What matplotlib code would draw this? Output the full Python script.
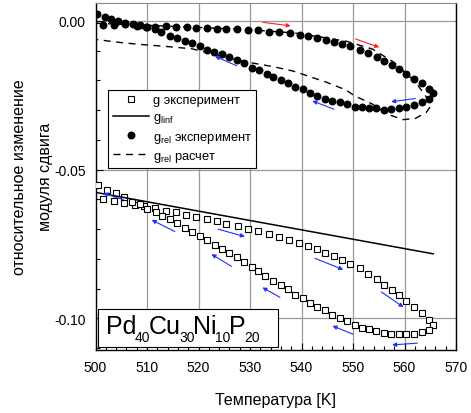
import numpy as np
import matplotlib
matplotlib.use("Agg")
import matplotlib.pyplot as plt
from matplotlib.ticker import MultipleLocator, FormatStrFormatter
from matplotlib.patches import Rectangle
from matplotlib.transforms import IdentityTransform

plt.rcParams["font.family"] = ["Liberation Sans", "DejaVu Sans"]
plt.rcParams["axes.unicode_minus"] = False
plt.rcParams["mathtext.fontset"] = "custom"
plt.rcParams["mathtext.rm"] = "Liberation Sans"

# g experiment: heating branch (upper) and cooling branch (lower)
g_heat_T = [501.5, 503.5, 505.6, 507.7, 509.4, 511.5, 513.7, 515.6, 517.5, 519.5,
            521.6, 523.6, 525.4, 527.6, 529.6, 531.6, 533.7, 535.6, 537.5, 539.5,
            541.3, 543.0, 544.6, 546.3, 547.9, 549.5, 551.3, 552.9, 554.6, 556.1,
            557.6, 558.9, 560.3, 561.8, 563.3, 564.7, 565.6]
g_heat = [-0.0597, -0.0604, -0.0611, -0.0619, -0.0622, -0.0630, -0.0638, -0.0644,
          -0.0652, -0.0659, -0.0666, -0.0674, -0.0681, -0.0689, -0.0698, -0.0706,
          -0.0716, -0.0727, -0.0736, -0.0747, -0.0757, -0.0768, -0.0780, -0.0791,
          -0.0802, -0.0817, -0.0831, -0.0850, -0.0869, -0.0886, -0.0904, -0.0922,
          -0.0941, -0.0961, -0.0983, -0.1006, -0.1022]
g_cool_T = [564.7, 563.3, 561.8, 560.3, 558.9, 557.4, 556.0, 554.5, 553.1, 551.7,
            550.3, 548.8, 547.4, 545.9, 544.5, 543.1, 541.7, 540.2, 538.8, 537.3,
            536.1, 534.5, 533.0, 531.6, 530.3, 528.8, 527.4, 525.9, 524.5, 523.2,
            521.7, 520.3, 518.8, 517.4, 515.9, 514.4, 513.0, 511.7, 510.0, 508.6,
            507.1, 505.6, 504.0, 502.3, 500.5]
g_cool = [-0.1039, -0.1047, -0.1052, -0.1053, -0.1053, -0.1051, -0.1049, -0.1042,
          -0.1036, -0.1032, -0.1021, -0.1010, -0.0999, -0.0988, -0.0972, -0.0961,
          -0.0949, -0.0932, -0.0921, -0.0902, -0.0888, -0.0873, -0.0858, -0.0839,
          -0.0828, -0.0811, -0.0794, -0.0780, -0.0766, -0.0752, -0.0738, -0.0722,
          -0.0708, -0.0697, -0.0680, -0.0667, -0.0656, -0.0644, -0.0632, -0.0616,
          -0.0608, -0.0591, -0.0580, -0.0567, -0.0552]

# g_linf line
linf_T = [500.2, 565.6]
linf_g = [-0.0577, -0.0783]

# g_rel experiment
rel_heat_T = [501.4, 503.6, 505.7, 508.0, 509.8, 511.5, 513.7, 515.6, 517.7, 519.5,
              521.6, 523.5, 525.4, 527.4, 529.6, 531.6, 533.6, 535.6, 537.7, 539.7,
              541.3, 543.0, 544.7, 546.3, 547.9, 549.5, 551.3, 552.9, 554.6, 556.1,
              557.6, 558.9, 560.3, 561.8, 563.3, 564.7, 565.6]
rel_heat = [-0.0013, -0.0013, -0.0012, -0.0017, -0.0020, -0.0022, -0.0019, -0.0021,
            -0.0021, -0.0023, -0.0024, -0.0027, -0.0028, -0.0029, -0.0030, -0.0032,
            -0.0036, -0.0038, -0.0041, -0.0047, -0.0052, -0.0058, -0.0063, -0.0071,
            -0.0078, -0.0086, -0.0097, -0.0108, -0.0122, -0.0134, -0.0149, -0.0163,
            -0.0179, -0.0194, -0.0210, -0.0228, -0.0244]
rel_cool_T = [564.7, 563.4, 561.8, 560.3, 558.9, 557.4, 556.0, 554.5, 553.1, 551.7,
              550.3, 548.8, 547.4, 545.9, 544.5, 543.1, 541.6, 540.2, 538.8, 537.4,
              536.0, 534.4, 533.2, 531.7, 530.3, 528.8, 527.4, 525.9, 524.5, 523.0,
              521.6, 520.3, 518.8, 517.4, 515.9, 514.4, 512.8, 511.5, 509.9, 508.6,
              507.3, 505.7, 504.4, 503.1, 501.8, 500.3]
rel_cool = [-0.0261, -0.0272, -0.0283, -0.0291, -0.0294, -0.0297, -0.0299, -0.0294,
            -0.0293, -0.0291, -0.0288, -0.0280, -0.0274, -0.0269, -0.0261, -0.0252,
            -0.0241, -0.0230, -0.0221, -0.0208, -0.0199, -0.0190, -0.0180, -0.0166,
            -0.0158, -0.0143, -0.0133, -0.0122, -0.0113, -0.0104, -0.0097, -0.0086,
            -0.0074, -0.0067, -0.0058, -0.0050, -0.0037, -0.0028, -0.0021, -0.0014,
            -0.0010, -0.0008, 0.0000, 0.0007, 0.0014, 0.0023]

# g_rel calculation (dashed loop)
calc_T = [500.0, 510.0, 520.0, 530.0, 538.7, 544.0, 548.8, 553.8, 558.0, 562.1,
          564.2, 564.9, 564.2, 562.1, 559.7, 556.6, 553.8, 550.3, 548.6, 544.8,
          542.2, 538.4, 534.5, 528.6, 518.7, 513.7, 509.2, 505.4, 500.2]
calc_g = [-0.0008, -0.0015, -0.0022, -0.0030, -0.0041, -0.0055, -0.0069, -0.0095,
          -0.0140, -0.0205, -0.0255, -0.0291, -0.0308, -0.0328, -0.0332, -0.0313,
          -0.0280, -0.0252, -0.0232, -0.0206, -0.0191, -0.0169, -0.0154, -0.0136,
          -0.0094, -0.0086, -0.0080, -0.0074, -0.0063]

# direction arrows: (T_start, g_start, T_end, g_end)
red_arrows = [(532.5, -0.0005, 537.9, -0.0017), (550.5, -0.0061, 555.1, -0.0089)]
blue_arrows = [(527.4, -0.0151, 523.2, -0.0119), (546.3, -0.0297, 542.1, -0.0269),
               (562.1, -0.0261, 557.4, -0.0272),
               (505.4, -0.0601, 501.5, -0.0579), (515.4, -0.0708, 510.9, -0.0669),
               (523.8, -0.0700, 529.0, -0.0725), (526.4, -0.0825, 522.5, -0.0784),
               (535.8, -0.0929, 532.4, -0.0896), (542.6, -0.0798, 548.1, -0.0836),
               (555.5, -0.0911, 559.8, -0.0962), (550.0, -0.1053, 546.0, -0.1025),
               (562.5, -0.1083, 557.6, -0.1089)]

# alloy label pieces: (text, is_subscript)
alloy = [("Pd", False), ("40", True), ("Cu", False), ("30", True),
         ("Ni", False), ("10", True), ("P", False), ("20", True)]

fig = plt.figure(figsize=(4.71, 4.14), dpi=100)
ax = fig.add_axes([0.2028, 0.1522, 0.7654, 0.8382])

ax.plot(g_heat_T, g_heat, "s", mfc="white", mec="black", ms=3.8, mew=0.8,
        label="g эксперимент", zorder=3)
ax.plot(g_cool_T, g_cool, "s", mfc="white", mec="black", ms=3.8, mew=0.8, zorder=3)
ax.plot(linf_T, linf_g, "-", color="black", lw=1.1, label="g$_\\mathregular{linf}$", zorder=3)
ax.plot(rel_heat_T, rel_heat, "o", color="black", ms=4.7,
        label="g$_\\mathregular{rel}$ эксперимент", zorder=4)
ax.plot(rel_cool_T, rel_cool, "o", color="black", ms=4.7, zorder=4)
ax.plot(calc_T, calc_g, "--", color="black", lw=1.0, dashes=(5, 4),
        label="g$_\\mathregular{rel}$ расчет", zorder=3)

for x0, y0, x1, y1 in red_arrows:
    ax.annotate("", xy=(x1, y1), xytext=(x0, y0),
                arrowprops=dict(arrowstyle="-|>", color="#ff2020", lw=0.8,
                                mutation_scale=6, shrinkA=0, shrinkB=0), zorder=5)
for x0, y0, x1, y1 in blue_arrows:
    ax.annotate("", xy=(x1, y1), xytext=(x0, y0),
                arrowprops=dict(arrowstyle="-|>", color="#2030ff", lw=0.8,
                                mutation_scale=6, shrinkA=0, shrinkB=0), zorder=5)

ax.set_xlim(500, 570)
ax.set_ylim(-0.1106, 0.006)
ax.xaxis.set_major_locator(MultipleLocator(10))
ax.xaxis.set_minor_locator(MultipleLocator(2))
ax.yaxis.set_major_locator(MultipleLocator(0.05))
ax.yaxis.set_minor_locator(MultipleLocator(0.01))
ax.yaxis.set_major_formatter(FormatStrFormatter("%.2f"))
ax.tick_params(which="both", direction="in", labelsize=10, width=0.8)
ax.tick_params(which="major", length=5, pad=7)
ax.tick_params(which="minor", length=3)
ax.grid(True, which="major", color="#999999", lw=0.9)
ax.set_axisbelow(True)
for side in ["left", "bottom", "right"]:
    ax.spines[side].set_color("black")
    ax.spines[side].set_linewidth(1.0)
ax.spines["top"].set_color("#888888")

ax.set_xlabel("Температура [K]", fontsize=11.5, labelpad=13)
fig.text(32.5 / 471, 1 - 177 / 414, "относительное изменение\nмодуля сдвига",
         rotation=90, ha="center", va="center", fontsize=11.5, linespacing=1.9)

leg = ax.legend(loc="upper left", bbox_to_anchor=(0.035, 0.75), fontsize=9.3,
                frameon=True, fancybox=False, edgecolor="black", framealpha=1,
                handlelength=2.8, handletextpad=0.3, borderpad=0.35,
                labelspacing=0.4, borderaxespad=0)
leg.get_frame().set_linewidth(0.8)

# alloy composition box: pieces laid out side by side in pixels
ax.add_patch(Rectangle((0.008, 0.009), 0.497, 0.109, transform=ax.transAxes,
                       fc="white", ec="black", lw=0.8, zorder=6))
renderer = fig.canvas.get_renderer()
x_px, y_px = ax.transAxes.transform((0.028, 0.05))
for piece, sub in alloy:
    t = ax.text(x_px, y_px - (8 if sub else 0), piece, transform=IdentityTransform(),
                fontsize=10 if sub else 18, ha="left", va="baseline", zorder=7)
    x_px = t.get_window_extent(renderer).x1 - 1.5

fig.savefig("out.png", dpi=100)
